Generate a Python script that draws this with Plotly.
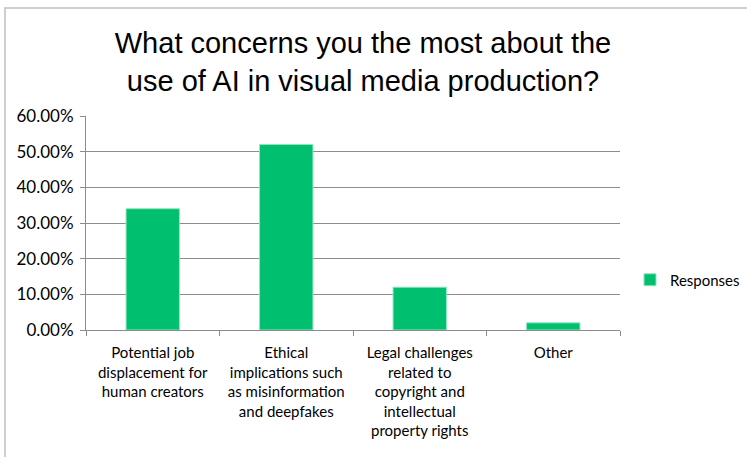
import plotly.graph_objects as go

# Survey answers and share of responses
categories = [
    "Potential job<br>displacement for<br>human creators",
    "Ethical<br>implications such<br>as misinformation<br>and deepfakes",
    "Legal challenges<br>related to<br>copyright and<br>intellectual<br>property rights",
    "Other",
]
responses = [0.34, 0.52, 0.12, 0.02]
y_ticks = [0, 0.1, 0.2, 0.3, 0.4, 0.5, 0.6]

W, H = 747, 457
L, R, T, B = 86, 127, 116, 127
PW, PH = W - L - R, H - T - B

fig = go.Figure()
fig.add_trace(go.Bar(
    x=categories,
    y=responses,
    name="Responses",
    marker=dict(color="#00BF6F", line=dict(color="#8fe6bd", width=1)),
    width=0.4,
    showlegend=True,
))

x_font = dict(family="Lato, Carlito, sans-serif", size=15, color="#000000")
y_font = dict(family="Lato, Carlito, sans-serif", size=17, color="#000000")

fig.update_layout(
    width=W, height=H,
    margin=dict(l=L, r=R, t=T, b=B, pad=0, autoexpand=False),
    paper_bgcolor="white",
    plot_bgcolor="white",
    title=dict(
        text="What concerns you the most about the<br>use of AI in visual media production?",
        font=dict(family="Liberation Sans, Arial, sans-serif", size=29, color="#000000"),
        x=363 / W, xanchor="center", xref="container",
        y=1 - 53 / H, yanchor="top", yref="container",
    ),
    xaxis=dict(
        type="category",
        tickson="boundaries",
        ticks="outside",
        ticklen=5,
        tickcolor="#8c8c8c",
        showgrid=False,
        showline=True,
        linecolor="#8c8c8c",
        linewidth=1,
        tickfont=x_font,
        tickangle=0,
        ticklabelstandoff=9,
        fixedrange=True,
    ),
    yaxis=dict(
        range=[0, 0.6],
        tickvals=y_ticks,
        tickformat=".2%",
        ticks="outside",
        ticklen=5,
        tickcolor="#8c8c8c",
        showgrid=True,
        gridcolor="#8c8c8c",
        gridwidth=1,
        showline=True,
        linecolor="#8c8c8c",
        linewidth=1,
        zeroline=False,
        tickfont=y_font,
        ticklabelstandoff=3,
        fixedrange=True,
    ),
    legend=dict(
        x=(630 - L) / PW, xanchor="left",
        y=(330 - 280) / PH, yanchor="middle",
        font=x_font,
        bgcolor="rgba(0,0,0,0)",
    ),
    showlegend=True,
    shapes=[
        dict(
            type="rect", xref="paper", yref="paper",
            x0=(5 - L) / PW, x1=(W + 20 - L) / PW,
            y0=-(B + 20) / PH, y1=(H - 8 - B) / PH,
            line=dict(color="#bfbfbf", width=1.5),
            fillcolor="rgba(0,0,0,0)",
            layer="below",
        )
    ],
)

fig.write_html("out.html")
